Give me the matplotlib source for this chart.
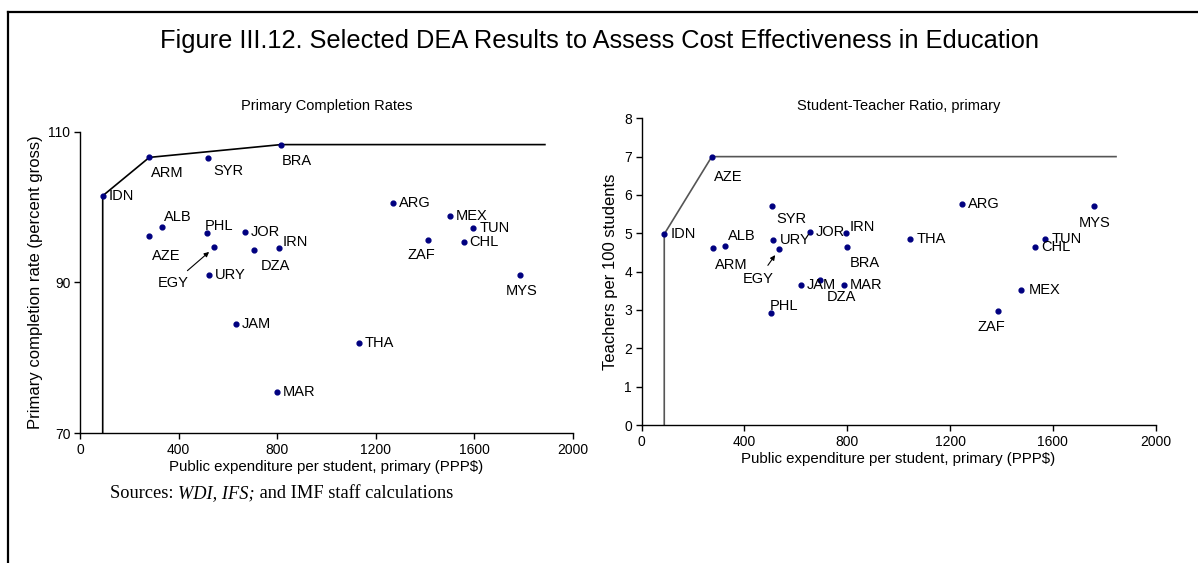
import matplotlib
matplotlib.use('Agg')
import matplotlib.pyplot as plt
from matplotlib.lines import Line2D

plt.rcParams['font.family'] = ['Liberation Sans', 'DejaVu Sans']

# Primary completion rates
comp_countries = ['IDN', 'ARM', 'SYR', 'BRA', 'ALB', 'AZE', 'PHL', 'JOR', 'EGY', 'DZA', 'IRN',
                  'URY', 'ARG', 'MEX', 'TUN', 'ZAF', 'CHL', 'MYS', 'JAM', 'THA', 'MAR']
comp_spend = [92, 281, 519, 815, 333, 279, 514, 668, 545, 706, 807,
              522, 1268, 1501, 1594, 1410, 1556, 1786, 632, 1130, 800]
comp_rate = [101.5, 106.6, 106.5, 108.3, 97.3, 96.15, 96.5, 96.7, 94.65, 94.25, 94.6,
             90.97, 100.5, 98.85, 97.2, 95.6, 95.35, 90.97, 84.5, 81.9, 75.4]
comp_frontier = ['IDN', 'ARM', 'BRA']
comp_frontier_end = 1886

# Teachers per 100 students
stud_countries = ['IDN', 'AZE', 'SYR', 'ALB', 'ARM', 'URY', 'EGY', 'JOR', 'IRN', 'BRA', 'THA',
                  'JAM', 'DZA', 'MAR', 'PHL', 'ARG', 'MYS', 'TUN', 'CHL', 'MEX', 'ZAF']
stud_spend = [88, 273, 509, 325, 276, 511, 535, 655, 794, 801, 1044,
              619, 694, 788, 504, 1248, 1759, 1569, 1532, 1478, 1388]
stud_ratio = [4.98, 7.0, 5.70, 4.67, 4.61, 4.82, 4.58, 5.03, 5.01, 4.65, 4.84,
              3.64, 3.79, 3.64, 2.91, 5.77, 5.71, 4.86, 4.65, 3.52, 2.97]
stud_frontier = ['IDN', 'AZE']
stud_frontier_end = 1846

# label placement: (dx, dy) in pixels, horizontal alignment
comp_labels = {
    'IDN': (6, 0, 'left'), 'ARM': (2, -16, 'left'), 'SYR': (5, -13, 'left'),
    'BRA': (1, -16, 'left'), 'ALB': (2, 10, 'left'), 'AZE': (3, -20, 'left'),
    'PHL': (-2, 7, 'left'), 'JOR': (6, 0, 'left'), 'IRN': (4, 6, 'left'),
    'DZA': (7, -16, 'left'), 'URY': (6, 0, 'left'), 'ARG': (6, 0, 'left'),
    'MEX': (6, 0, 'left'), 'TUN': (7, 0, 'left'), 'ZAF': (-6, -15, 'center'),
    'CHL': (6, 0, 'left'), 'MYS': (1, -16, 'center'), 'JAM': (6, 0, 'left'),
    'THA': (6, 0, 'left'), 'MAR': (6, 0, 'left'),
}
stud_labels = {
    'IDN': (6, 0, 'left'), 'AZE': (2, -20, 'left'), 'SYR': (4, -13, 'left'),
    'ALB': (3, 10, 'left'), 'ARM': (2, -17, 'left'), 'URY': (7, 0, 'left'),
    'JOR': (6, 0, 'left'), 'IRN': (4, 6, 'left'), 'BRA': (2, -16, 'left'),
    'THA': (7, 0, 'left'), 'JAM': (6, 0, 'left'), 'DZA': (7, -17, 'left'),
    'MAR': (6, 0, 'left'), 'PHL': (-1, 7, 'left'), 'ARG': (6, 0, 'left'),
    'MYS': (1, -17, 'center'), 'TUN': (7, 0, 'left'), 'CHL': (6, 0, 'left'),
    'MEX': (7, 0, 'left'), 'ZAF': (-7, -16, 'center'),
}

NAVY = '#000080'


def draw_panel(ax, countries, xs, ys, frontier, frontier_end, ymin, labels,
               egy_text, line_color, title, title_pad):
    # efficiency frontier: vertical drop, frontier countries, then flat
    fx = [xs[countries.index(c)] for c in frontier]
    fy = [ys[countries.index(c)] for c in frontier]
    ax.plot([fx[0]] + fx + [frontier_end], [ymin] + fy + [fy[-1]],
            color=line_color, lw=1.2, zorder=1)

    ax.scatter(xs, ys, s=12, color=NAVY, zorder=3)

    for c, x, y in zip(countries, xs, ys):
        if c == 'EGY':
            ax.annotate('EGY', xy=(x, y), xytext=egy_text, textcoords='data',
                        fontsize=10.5, ha='center', va='center',
                        arrowprops=dict(arrowstyle='-|>', color='black', lw=0.8,
                                        mutation_scale=7, shrinkA=3, shrinkB=5))
            continue
        dx, dy, ha = labels[c]
        ax.annotate(c, xy=(x, y), xytext=(dx, dy), textcoords='offset pixels',
                    fontsize=10.5, ha=ha, va='center')

    ax.set_xlim(0, 2000)
    ax.set_xticks(range(0, 2001, 400))
    ax.set_xlabel('Public expenditure per student, primary (PPP$)', fontsize=10.8, labelpad=2)
    ax.set_title(title, fontsize=10.5, pad=title_pad)
    for s in ['top', 'right']:
        ax.spines[s].set_visible(False)
    for s in ['left', 'bottom']:
        ax.spines[s].set_linewidth(1.0)
    ax.tick_params(direction='out', length=4, width=1, labelsize=10, pad=3)


fig = plt.figure(figsize=(11.98, 5.63), dpi=100)

ax1 = fig.add_axes([0.0668, 0.2309, 0.4115, 0.535])
draw_panel(ax1, comp_countries, comp_spend, comp_rate, comp_frontier, comp_frontier_end,
           70, comp_labels, (377, 89.9), 'black', 'Primary Completion Rates', 16)
ax1.set_ylim(70, 110)
ax1.set_yticks([70, 90, 110])
ax1.set_ylabel('Primary completion rate (percent gross)', fontsize=12, labelpad=4)

ax2 = fig.add_axes([0.5356, 0.2451, 0.4290, 0.5448])
draw_panel(ax2, stud_countries, stud_spend, stud_ratio, stud_frontier, stud_frontier_end,
           0, stud_labels, (455, 3.82), '#555555', 'Student-Teacher Ratio, primary', 6)
ax2.set_ylim(0, 8)
ax2.set_yticks(range(0, 9))
ax2.set_ylabel('Teachers per 100 students', fontsize=12, labelpad=4)

fig.text(0.5, 0.928, 'Figure III.12. Selected DEA Results to Assess Cost Effectiveness in Education',
         ha='center', va='center', fontsize=18.3)

# sources line: roman / italic / roman pieces laid end to end
sx, sy = 0.092, 0.124
parts = [('Sources: ', 'normal'), ('WDI, IFS;', 'italic'), (' and IMF staff calculations', 'normal')]
fig.canvas.draw()
for txt, st in parts:
    t = fig.text(sx, sy, txt, ha='left', va='center', fontsize=13.2,
                 family='Liberation Serif', style=st)
    fig.canvas.draw()
    sx = t.get_window_extent().transformed(fig.transFigure.inverted()).x1

# box lines along the top and left edges
fig.add_artist(Line2D([0.0067, 1.0], [0.9787, 0.9787], color='black', lw=1.6))
fig.add_artist(Line2D([0.0067, 0.0067], [0.0, 0.9787], color='black', lw=1.6))

fig.savefig('out.png', dpi=100)
